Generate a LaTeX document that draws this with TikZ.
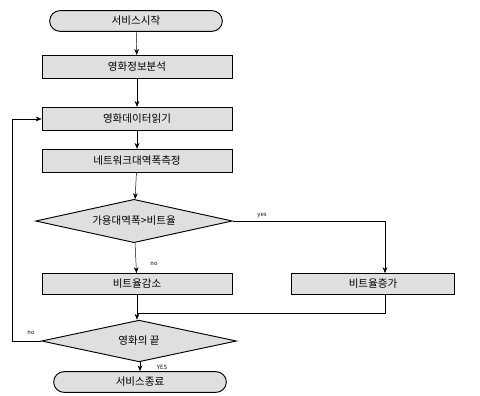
\documentclass[tikz,border=0pt]{standalone}
\usepackage{fontspec}
\setmainfont{Noto Sans CJK KR}
\usetikzlibrary{shapes.geometric,shapes.misc,arrows.meta}

\tikzset{
  flowbox/.style={draw,thick,fill=gray!25,minimum width=5.7cm,minimum height=0.7cm,inner sep=1pt,font=\small},
  termbox/.style={draw,thick,rounded rectangle,fill=gray!25,minimum width=5.25cm,minimum height=0.62cm,inner sep=1pt,font=\small},
  testbox/.style={draw,thick,diamond,aspect=4.4,fill=gray!25,minimum width=5.9cm,minimum height=1.3cm,inner sep=0pt,font=\small},
  flowline/.style={thin,-{Stealth[length=5pt,width=4pt]}},
  tag/.style={font=\tiny}
}

\begin{document}
\begin{tikzpicture}[x=0.03cm,y=-0.03cm]

\useasboundingbox (0,0) rectangle (480,395);

% -------- main column --------
\node[termbox] (start) at (136,21)  {서비스시작};
\node[flowbox] (info)  at (137,67)  {영화정보분석};
\node[flowbox] (read)  at (137,119) {영화데이터읽기};
\node[flowbox] (bw)    at (137,161) {네트워크대역폭측정};
\node[testbox] (cmp)   at (134,221) {가용대역폭>비트율};
\node[flowbox,minimum height=0.63cm] (dec) at (137,284) {비트율감소};
\node[flowbox,minimum width=4.9cm,minimum height=0.63cm] (inc) at (373,284) {비트율증가};
\node[testbox,minimum width=5.85cm,minimum height=1.25cm] (eof) at (139,341) {영화의 끝};
\node[termbox] (stop) at (140,382) {서비스종료};

% helper points
\coordinate (yc)   at (385,221);
\coordinate (mrg)  at (137,313);
\coordinate (loop) at (12,341);

% -------- connectors --------
\draw[flowline] (start) -- (info);
\draw[flowline] (info) -- (read);
\draw[flowline] (read) -- (bw);
\draw[flowline] (bw) -- (cmp);
\draw[flowline] (cmp) -- (dec);
\draw[flowline] (cmp.east) -- (yc) -- (yc |- inc.north);
\draw (dec.south) -- (mrg);
\draw[flowline] (yc |- inc.south) |- (mrg) -- (mrg |- eof.north);
\draw[flowline] (eof.west) -- (loop) |- (read.west);
\draw[flowline] (eof.south -| stop.north) -- (stop.north);

% -------- branch tags --------
\node[tag] (tyes) at (262,216) {yes};
\node[tag] (tno)  at (154,264) {no};
\node[tag] (tno2) at (31,333)  {no};
\node[tag] (tyes2) at (162,367) {YES};

\end{tikzpicture}
\end{document}
